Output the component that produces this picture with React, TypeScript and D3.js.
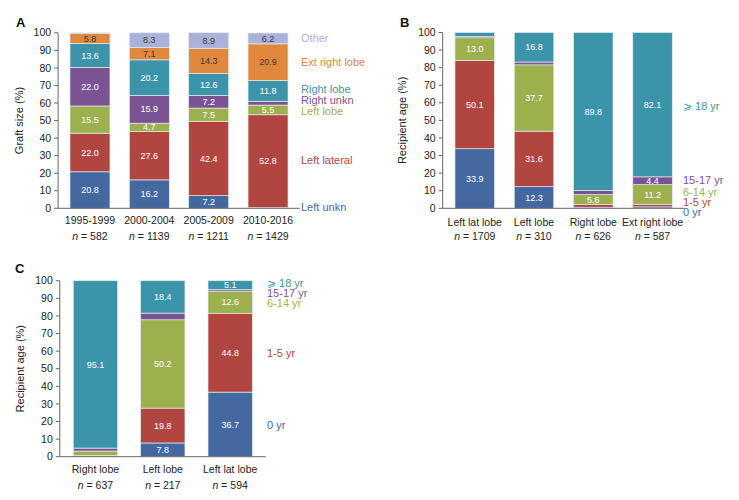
import React from "react";
import * as d3 from "d3";

// ---------- Panel A data ----------
const catsA = ["1995-1999", "2000-2004", "2005-2009", "2010-2016"];
const nA = [582, 1139, 1211, 1429];
const seriesA = ["Left unkn", "Left lateral", "Left lobe", "Right unkn", "Right lobe", "Ext right lobe", "Other"];
const leftUnknA = [20.8, 16.2, 7.2, 0.5];
const leftLateralA = [22.0, 27.6, 42.4, 52.8];
const leftLobeA = [15.5, 4.7, 7.5, 5.5];
const rightUnknA = [22.0, 15.9, 7.2, 2.2];
const rightLobeA = [13.6, 20.2, 12.6, 11.8];
const extRightA = [5.8, 7.1, 14.3, 20.9];
const otherA = [0.3, 8.3, 8.9, 6.2];
const legendValA = [0.7, 27.6, 55.5, 61.8, 68, 83.5, 97.1];

// ---------- Panel B data ----------
const catsB = ["Left lat lobe", "Left lobe", "Right lobe", "Ext right lobe"];
const nB = [1709, 310, 626, 587];
const seriesAge = ["0 yr", "1-5 yr", "6-14 yr", "15-17 yr", "\u2A7E 18 yr"];
const age0B = [33.9, 12.3, 0.6, 0.8];
const age1B = [50.1, 31.6, 1.6, 1.5];
const age6B = [13.0, 37.7, 5.6, 11.2];
const age15B = [0.8, 1.6, 2.4, 4.4];
const age18B = [2.2, 16.8, 89.8, 82.1];
const legendValB = [-2.1, 3.6, 9.2, 16, 58];

// ---------- Panel C data ----------
const catsC = ["Right lobe", "Left lobe", "Left lat lobe"];
const nC = [637, 217, 594];
const age0C = [0.3, 7.8, 36.7];
const age1C = [0.4, 19.8, 44.8];
const age6C = [2.5, 50.2, 12.6];
const age15C = [1.7, 3.8, 0.8];
const age18C = [95.1, 18.4, 5.1];
const legendValC = [18, 58.9, 87.3, 93, 98.7];

const yTicks = [0, 10, 20, 30, 40, 50, 60, 70, 80, 90, 100];

const colA = ["#4469a0", "#b14641", "#9db04e", "#7a5492", "#3b94aa", "#e0883c", "#a9b2d9"];
const colAge = ["#4469a0", "#b14641", "#9db04e", "#7a5492", "#3b94aa"];
const darkText = [false, false, false, false, false, true, true];

const FONT = "'Liberation Sans', Arial, sans-serif";

type PanelProps = {
  letter: string;
  letterX: number;
  letterY: number;
  title: string;
  titleX: number;
  cats: string[];
  ns: number[];
  series: string[];
  values: number[][];
  colors: string[];
  dark: boolean[];
  legendVals: number[];
  legendX: number;
  xRange: [number, number];
  yRange: [number, number];
  padInner: number;
  padOuter: number;
  catY: number;
  nY: number;
};

function Panel(p: PanelProps) {
  const x = d3.scaleBand<string>().domain(p.cats).range(p.xRange).paddingInner(p.padInner).paddingOuter(p.padOuter);
  const y = d3.scaleLinear().domain([0, 100]).range(p.yRange);
  const table = p.cats.map((c, i) => {
    const row: any = { cat: c };
    p.series.forEach((s, j) => (row[s] = p.values[j][i]));
    return row;
  });
  const stacked = d3.stack<any>().keys(p.series)(table);
  const axX = p.xRange[0];
  const bw = x.bandwidth();
  return (
    <g>
      <text x={p.letterX} y={p.letterY} fontFamily={FONT} fontWeight="bold" fontSize={13} fill="#111">
        {p.letter}
      </text>
      <text
        transform={`translate(${p.titleX},${(p.yRange[0] + p.yRange[1]) / 2}) rotate(-90)`}
        textAnchor="middle"
        dominantBaseline="middle"
        fontFamily={FONT}
        fontSize={11}
        fill="#222"
      >
        {p.title}
      </text>
      {stacked.map((layer, j) => (
        <g key={layer.key}>
          {layer.map((d, i) => {
            const v = d[1] - d[0];
            const x0 = x(p.cats[i])!;
            return (
              <g key={i}>
                <rect
                  x={x0}
                  y={y(d[1])}
                  width={bw}
                  height={Math.max(0, y(d[0]) - y(d[1]))}
                  fill={p.colors[j]}
                  stroke="#e4e8ec"
                  strokeWidth={0.7}
                />
                {v >= 4 && (
                  <text
                    x={x0 + bw / 2}
                    y={y((d[0] + d[1]) / 2)}
                    dy="0.35em"
                    textAnchor="middle"
                    fontFamily={FONT}
                    fontSize={9}
                    fill={p.dark[j] ? "#3a3a3a" : "#ffffff"}
                  >
                    {v.toFixed(1)}
                  </text>
                )}
              </g>
            );
          })}
        </g>
      ))}
      {/* axes */}
      <line x1={axX} x2={axX} y1={y(100)} y2={y(0)} stroke="#666" strokeWidth={1} />
      <line x1={axX} x2={p.xRange[1]} y1={y(0)} y2={y(0)} stroke="#666" strokeWidth={1} />
      {yTicks.map((t) => (
        <g key={t}>
          <line x1={axX - 4} x2={axX} y1={y(t)} y2={y(t)} stroke="#666" strokeWidth={1} />
          <text
            x={axX - 7}
            y={y(t)}
            dy="0.35em"
            textAnchor="end"
            fontFamily={FONT}
            fontSize={10.5}
            fill="#222"
          >
            {t}
          </text>
        </g>
      ))}
      {p.cats.map((c, i) => (
        <g key={c}>
          <text
            x={x(c)! + bw / 2}
            y={p.catY}
            dy="0.35em"
            textAnchor="middle"
            fontFamily={FONT}
            fontSize={10.5}
            fill="#222"
          >
            {c}
          </text>
          <text
            x={x(c)! + bw / 2}
            y={p.nY}
            dy="0.35em"
            textAnchor="middle"
            fontFamily={FONT}
            fontSize={10.5}
            fill="#222"
          >
            <tspan fontStyle="italic">n</tspan> = {p.ns[i]}
          </text>
        </g>
      ))}
      {p.series.map((s, j) => (
        <text
          key={s}
          x={p.legendX}
          y={y(p.legendVals[j])}
          dy="0.35em"
          fontFamily={FONT}
          fontSize={11}
          fill={p.colors[j]}
        >
          {s}
        </text>
      ))}
    </g>
  );
}

export default function App() {
  return (
    <svg width={739} height={500} style={{ position: "absolute", left: 0, top: 0, background: "#fff" }}>
      <rect x={0} y={0} width={739} height={500} fill="#fff" />
      <Panel
        letter="A"
        letterX={16}
        letterY={27}
        title="Graft size (%)"
        titleX={20}
        cats={catsA}
        ns={nA}
        series={seriesA}
        values={[leftUnknA, leftLateralA, leftLobeA, rightUnknA, rightLobeA, extRightA, otherA]}
        colors={colA}
        dark={darkText}
        legendVals={legendValA}
        legendX={301}
        xRange={[58.1, 299.9]}
        yRange={[208.3, 32.8]}
        padInner={0.326}
        padOuter={0.2}
        catY={220}
        nY={236}
      />
      <Panel
        letter="B"
        letterX={400}
        letterY={27}
        title="Recipient age (%)"
        titleX={403}
        cats={catsB}
        ns={nB}
        series={seriesAge}
        values={[age0B, age1B, age6B, age15B, age18B]}
        colors={colAge}
        dark={[false, false, false, false, false]}
        legendVals={legendValB}
        legendX={683}
        xRange={[442.7, 684.6]}
        yRange={[208.3, 32.5]}
        padInner={0.333}
        padOuter={0.207}
        catY={222}
        nY={236}
      />
      <Panel
        letter="C"
        letterX={15}
        letterY={273}
        title="Recipient age (%)"
        titleX={21}
        cats={catsC}
        ns={nC}
        series={seriesAge}
        values={[age0C, age1C, age6C, age15C, age18C]}
        colors={colAge}
        dark={[false, false, false, false, false]}
        legendVals={legendValC}
        legendX={267}
        xRange={[59.8, 265.8]}
        yRange={[456.7, 280.7]}
        padInner={0.342}
        padOuter={0.2}
        catY={469}
        nY={485}
      />
    </svg>
  );
}
